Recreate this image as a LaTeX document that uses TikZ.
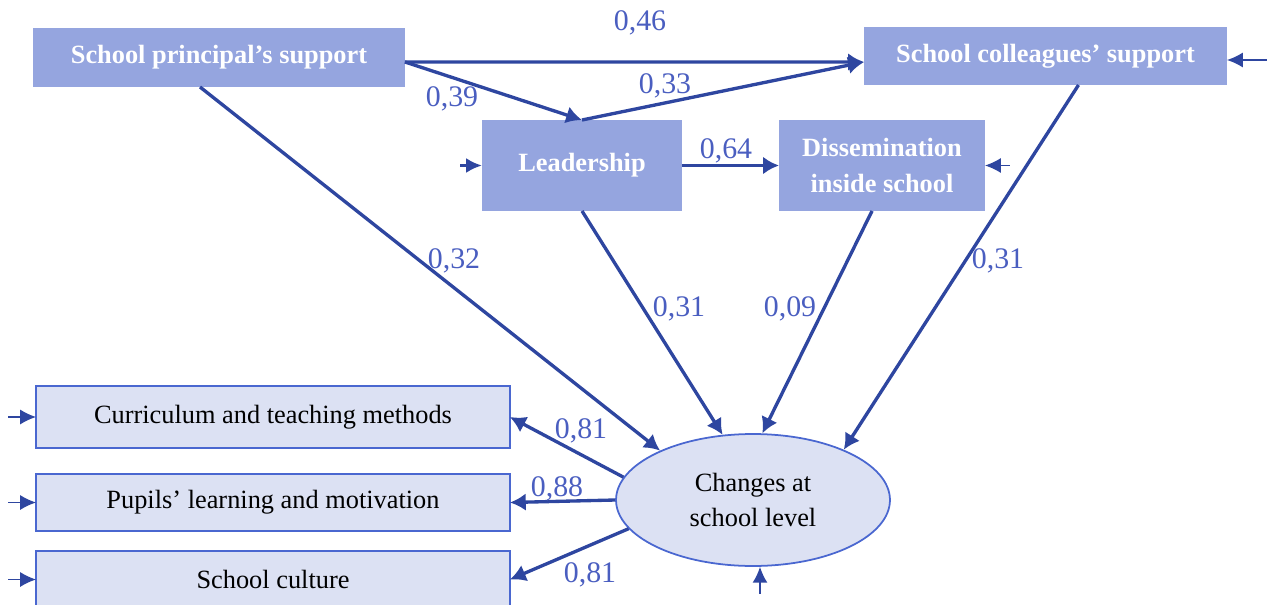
\documentclass[tikz,border=0pt]{standalone}
\usepackage{fontspec}
\setmainfont{Liberation Serif}
\usetikzlibrary{arrows.meta,positioning,shapes.geometric,calc}

\definecolor{boxdark}{HTML}{95A5DF}
\definecolor{boxlight}{HTML}{DCE1F3}
\definecolor{edgeblue}{HTML}{4A67D0}
\definecolor{arrblue}{HTML}{2E46A0}
\definecolor{lblblue}{HTML}{4A5EC0}

\tikzset{
  latent/.style={rectangle, fill=boxdark, text=white, align=center,
                 font=\fontsize{15}{20}\selectfont\bfseries, inner sep=0pt, outer sep=0pt},
  indic/.style={rectangle, draw=edgeblue, fill=boxlight, line width=1.2pt,
                font=\fontsize{15}{20}\selectfont, inner sep=0pt, outer sep=0pt,
                minimum width=9.48cm},
  wgt/.style={text=lblblue, font=\fontsize{17}{20}\selectfont, inner sep=0pt},
  causal/.style={-{Latex[length=9pt,width=10pt]}, line width=1.9pt, draw=arrblue},
  err/.style={-{Latex[length=9pt,width=8.5pt]}, line width=0.8pt, draw=arrblue}
}

\begin{document}
\begin{tikzpicture}[x=0.02cm, y=-0.02cm]
\useasboundingbox (0,0) rectangle (1278,605);

% latent variables
\node[latent, minimum width=7.44cm, minimum height=1.18cm] (princ) at (219,57.5) {School principal’s support};
\node[latent, minimum width=7.26cm, minimum height=1.16cm] (coll) at (1045.5,56) {School colleagues’ support};
\node[latent, minimum width=4cm, minimum height=1.82cm] (lead) at (582,165.5) {Leadership};
\node[latent, minimum width=4.12cm, minimum height=1.82cm] (diss) at (882,165.5) {Dissemination\\inside school};

% indicators
\node[indic, minimum height=1.24cm] (curr) at (273,417) {Curriculum and teaching methods};
\node[indic, minimum height=1.14cm] (pup) at (273,502.5) {Pupils’ learning and motivation};
\node[indic, minimum height=1.14cm] (cult) at (273,579.5) {School culture};

\node[ellipse, draw=edgeblue, fill=boxlight, line width=1pt, minimum width=5.48cm,
      minimum height=2.64cm, inner sep=0pt, align=center,
      font=\fontsize{15}{20}\selectfont] (chg) at (753,500) {Changes at\\school level};

% paths
\draw[causal] ([yshift=-0.09cm]princ.east) -- ([yshift=-0.12cm]coll.west);
\draw[causal] ([yshift=-0.09cm]princ.east) -- (lead.north);
\draw[causal] (lead.north) -- ([yshift=-0.12cm]coll.west);
\draw[causal] (lead.east) -- (diss.west);
\draw[causal] ([xshift=-0.38cm]princ.south) -- (chg.152);
\draw[causal] (lead.south) -- (chg.115);
\draw[causal] ([xshift=-0.2cm]diss.south) -- (chg.82);
\draw[causal] ([xshift=0.66cm]coll.south) -- (chg.29);
\draw[causal] (chg.170) -- (curr.east);
\draw[causal] (chg.west) -- (pup.east);
\draw[causal] (chg.193) -- (cult.east);

% error terms
\draw[err] ([xshift=-0.56cm]curr.west) -- (curr.west);
\draw[err] ([xshift=-0.56cm]pup.west) -- (pup.west);
\draw[err] ([xshift=-0.56cm]cult.west) -- (cult.west);
\draw[err, line width=1.9pt] ([xshift=-0.44cm]lead.west) -- (lead.west);
\draw[err] ([xshift=0.5cm]diss.east) -- (diss.east);
\draw[err] ([xshift=0.8cm,yshift=-0.08cm]coll.east) -- ([yshift=-0.08cm]coll.east);
\draw[err] ([xshift=0.14cm,yshift=-0.54cm]chg.south) -- ([xshift=0.14cm]chg.south);

% weights
\node[wgt] (w46) at (640,23) {0,46};
\node[wgt] (w39) at (452,99) {0,39};
\node[wgt] (w33) at (665,86) {0,33};
\node[wgt] (w64) at (726,151) {0,64};
\node[wgt] (w32) at (454,261) {0,32};
\node[wgt] (w31a) at (679,309) {0,31};
\node[wgt] (w09) at (790,309) {0,09};
\node[wgt] (w31b) at (998,261) {0,31};
\node[wgt] (w81a) at (581,431) {0,81};
\node[wgt] (w88) at (557,489) {0,88};
\node[wgt] (w81b) at (590,575) {0,81};
\end{tikzpicture}
\end{document}
